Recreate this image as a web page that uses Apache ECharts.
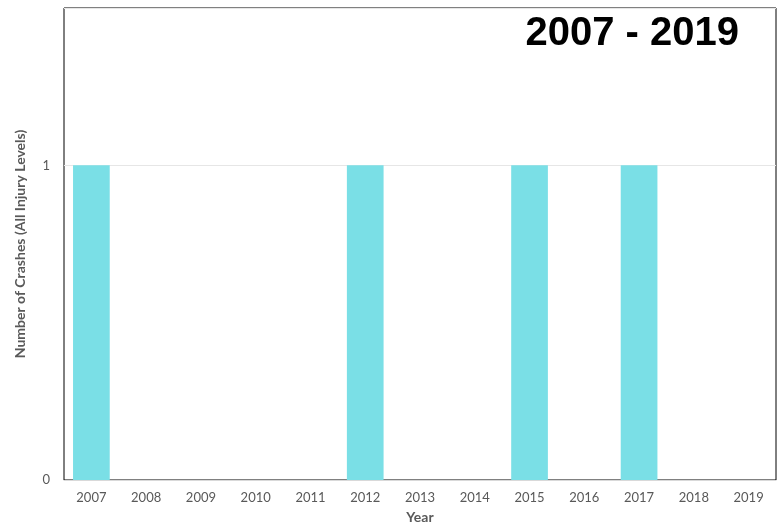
<!DOCTYPE html>
<html>
<head>
<meta charset="utf-8">
<script src="https://cdn.jsdelivr.net/npm/echarts@6/dist/echarts.min.js"></script>
<style>
  html, body { margin: 0; padding: 0; background: #fff; }
  #chart { width: 783px; height: 523px; }
</style>
</head>
<body>
<div id="chart"></div>
<script>
var years = ['2007', '2008', '2009', '2010', '2011', '2012', '2013', '2014', '2015', '2016', '2017', '2018', '2019'];
var crashes = [1, 0, 0, 0, 0, 1, 0, 0, 1, 0, 1, 0, 0];
var yTicks = [0, 1];

var chart = echarts.init(document.getElementById('chart'));
var labelFont = 'Lato, "Noto Sans", sans-serif';

option = {
    backgroundColor: '#fff',
    animation: false,
    title: {
        text: '2007 - 2019',
        right: 39,
        top: 9,
        textStyle: {
            fontFamily: '"Liberation Sans", Arial, sans-serif',
            fontSize: 40,
            fontWeight: 'bold',
            color: '#000'
        }
    },
    grid: {
        left: 64,
        right: 7,
        top: 8,
        bottom: 43,
        outerBoundsMode: 'none',
        containLabel: false,
        show: true,
        borderColor: '#000',
        borderWidth: 1
    },
    xAxis: {
        type: 'category',
        data: years,
        name: 'Year',
        nameLocation: 'middle',
        nameGap: 30,
        nameTextStyle: {
            fontFamily: labelFont,
            fontWeight: 'bold',
            fontSize: 14,
            color: '#595959'
        },
        axisLine: { lineStyle: { color: '#d9d9d9', width: 1 } },
        axisTick: { show: false },
        axisLabel: {
            fontFamily: labelFont,
            fontSize: 13,
            color: '#595959',
            margin: 11
        }
    },
    yAxis: {
        type: 'value',
        min: 0,
        max: 1.5,
        interval: 1,
        name: 'Number of Crashes (All Injury Levels)',
        nameLocation: 'middle',
        nameGap: 37,
        nameTextStyle: {
            fontFamily: labelFont,
            fontWeight: 'bold',
            fontSize: 14,
            color: '#595959'
        },
        axisLine: { show: false },
        axisTick: { show: false },
        splitLine: { lineStyle: { color: '#e6e6e6' } },
        axisLabel: {
            fontFamily: labelFont,
            fontSize: 13,
            color: '#595959',
            margin: 14,
            formatter: function (v) { return yTicks.indexOf(v) >= 0 ? String(v) : ''; }
        }
    },
    series: [{
        type: 'bar',
        data: crashes,
        barCategoryGap: '33%',
        itemStyle: { color: '#7adfe6' }
    }]
};

chart.setOption(option);
</script>
</body>
</html>
